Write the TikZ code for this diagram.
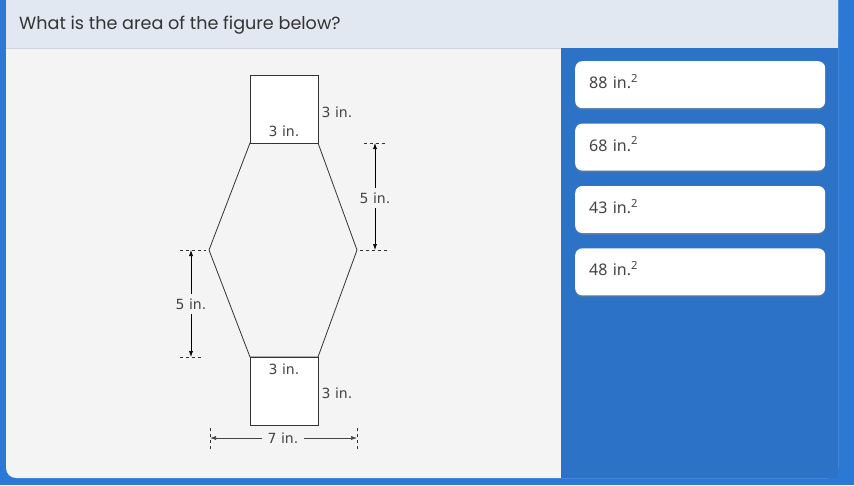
\documentclass[tikz,border=0pt]{standalone}
\usepackage{fontspec}
\setmainfont{Noto Sans}
\newfontfamily\headfont{Poppins}
\newfontfamily\figfont{DejaVu Sans}
\usetikzlibrary{positioning,calc,arrows.meta,shadows}

\definecolor{frameblue}{HTML}{2B78D5}
\definecolor{panelblue}{HTML}{2C72C6}
\definecolor{headgray}{HTML}{E1E8F2}
\definecolor{panelgray}{HTML}{F4F4F4}
\definecolor{textgray}{HTML}{444444}
\definecolor{linegray}{HTML}{333333}

\tikzset{
  answer/.style={draw=none, fill=white, rounded corners=7pt, anchor=north west,
    minimum width=250pt, minimum height=47pt, text width=222pt, inner xsep=14pt,
    text height=12pt, text depth=4pt,
    align=left, font=\fontsize{16}{19}\selectfont, text=textgray,
    drop shadow={opacity=0.35, shadow xshift=0pt, shadow yshift=-2pt}},
  dimlabel/.style={fill=panelgray, inner xsep=2pt, inner ysep=5pt, font=\figfont\fontsize{14}{16}\selectfont, text=textgray},
  sidelabel/.style={inner sep=2pt, font=\figfont\fontsize{14}{16}\selectfont, text=textgray},
  extline/.style={dashed, dash pattern=on 3pt off 3pt, line width=0.6pt, linegray},
  dimarrow/.style={{Latex[length=6pt,width=4pt]}-{Latex[length=6pt,width=4pt]}, line width=0.6pt}
}

\begin{document}
\begin{tikzpicture}[x=1pt,y=-1pt]
            % Frame and panels
            \fill[frameblue] (0,0) rectangle (854,485);
            \useasboundingbox (0,0) rectangle (854,485);
            \fill[panelgray, rounded corners=10pt] (6,-12) rectangle (838,478);
            \fill[headgray, rounded corners=10pt] (6,-12) rectangle (838,48);
            \fill[headgray] (6,30) rectangle (838,48);
            \draw[headgray!80!gray, line width=0.5pt] (6,48) -- (561,48);
            \fill[panelblue] (561,48) rectangle (838,478);

            % Question
            \node[anchor=west, inner sep=0pt, font=\headfont\fontsize{17.6}{20}\selectfont, text=linegray] (question) at (19,25.5) {What is the area of the figure below?};

            % Figure points
            \coordinate (tsq1) at (250,75);
            \coordinate (tsq2) at (318,75);
            \coordinate (hx1) at (250,143);
            \coordinate (hx2) at (318,143);
            \coordinate (hx3) at (357,250);
            \coordinate (hx4) at (318,357);
            \coordinate (hx5) at (250,357);
            \coordinate (hx6) at (209,250);
            \coordinate (bsq1) at (250,425);
            \coordinate (bsq2) at (318,425);

            % Hexagon and squares
            \draw[linegray, line width=0.8pt, fill=panelgray] (hx1) -- (hx2) -- (hx3) -- (hx4) -- (hx5) -- (hx6) -- cycle;
            \draw[linegray, line width=0.8pt, fill=white] (tsq1) rectangle (hx2);
            \draw[linegray, line width=0.8pt, fill=white] (hx5) rectangle (bsq2);

            % Side labels
            \node[sidelabel, anchor=west, inner xsep=3.5pt] (topside) at (318,112) {3 in.};
            \node[sidelabel] (topbase) at (284,131) {3 in.};
            \node[sidelabel] (botbase) at (284,369) {3 in.};
            \node[sidelabel, anchor=west, inner xsep=3.5pt] (botside) at (318,393) {3 in.};

            % Right dimension
            \coordinate (rt1) at (364,143);
            \coordinate (rt2) at (387,143);
            \coordinate (rb1) at (360,250);
            \coordinate (rb2) at (387,250);
            \draw[extline] (rt1) -- (rt2);
            \draw[extline] (rb1) -- (rb2);
            \draw[dimarrow] (375,143) -- (375,250);
            \node[dimlabel] (rightdim) at (375,198) {5 in.};

            % Left dimension
            \coordinate (lt1) at (180,250);
            \coordinate (lt2) at (206,250);
            \coordinate (lb1) at (180,357);
            \coordinate (lb2) at (203,357);
            \draw[extline] (lt1) -- (lt2);
            \draw[extline] (lb1) -- (lb2);
            \draw[dimarrow] (191,250) -- (191,357);
            \node[dimlabel] (leftdim) at (191,304) {5 in.};

            % Bottom dimension
            \coordinate (bl1) at (210,428);
            \coordinate (bl2) at (210,450);
            \coordinate (br1) at (357,428);
            \coordinate (br2) at (357,450);
            \draw[extline] (bl1) -- (bl2);
            \draw[extline] (br1) -- (br2);
            \draw[dimarrow, textgray] (210,438) -- (357,438);
            \node[dimlabel, inner xsep=6pt, inner ysep=2pt] (widthdim) at (283,438) {7 in.};

            % Answers
            \node[answer] (ans1) at (575,61) {88 in.\textsuperscript{2}};
            \node[answer, below=15pt of ans1.south west, anchor=north west] (ans2) {68 in.\textsuperscript{2}};
            \node[answer, below=15pt of ans2.south west, anchor=north west] (ans3) {43 in.\textsuperscript{2}};
            \node[answer, below=15pt of ans3.south west, anchor=north west] (ans4) {48 in.\textsuperscript{2}};
        \end{tikzpicture}
\end{document}
